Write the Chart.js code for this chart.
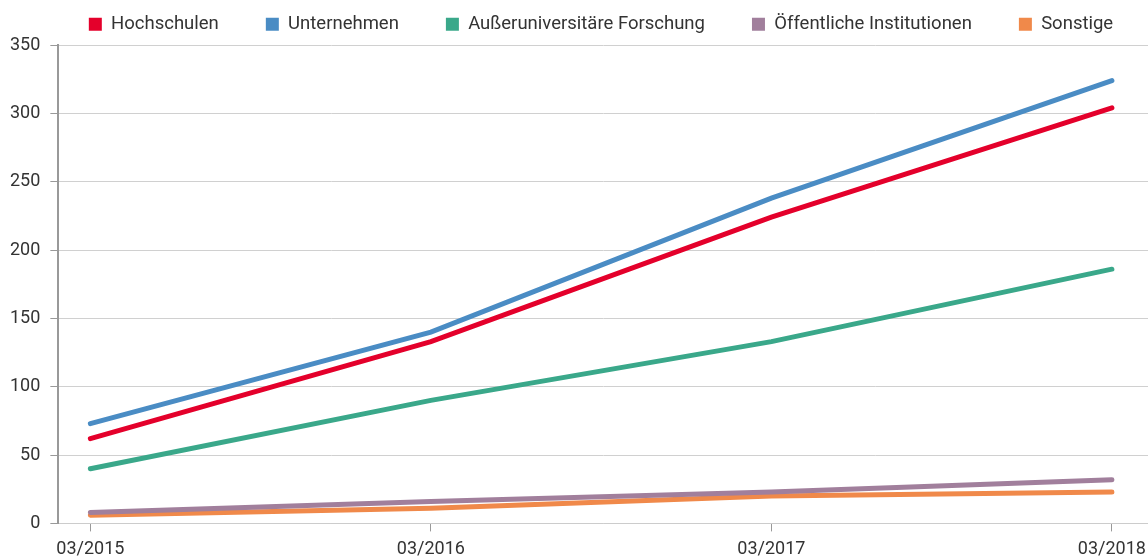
<!DOCTYPE html>
<html>
<head>
<meta charset="utf-8">
<script src="https://cdn.jsdelivr.net/npm/chart.js@4"></script>
<style>
  html, body { margin: 0; padding: 0; background: #fff; }
  #wrap { width: 1148px; height: 556px; }
</style>
</head>
<body>
<div id="wrap"><canvas id="myChart" width="1148" height="556"></canvas></div>
<script>
// chart data
var labels = ['03/2015', '03/2016', '03/2017', '03/2018'];
var seriesNames = ['Hochschulen', 'Unternehmen', 'Außeruniversitäre Forschung', 'Öffentliche Institutionen', 'Sonstige'];
var hochschulen = [62, 133, 224, 304];
var unternehmen = [73, 140, 238, 324];
var forschung = [40, 90, 133, 186];
var institutionen = [8, 16, 23, 32];
var sonstige = [6, 11, 20, 23];
var yTicks = [0, 50, 100, 150, 200, 250, 300, 350];

var colors = ['#e4002b', '#4a8cc4', '#3aa88a', '#a17f9c', '#f0894a'];
var allValues = [hochschulen, unternehmen, forschung, institutionen, sonstige];

function toPoints(arr) {
  return arr.map(function (v, i) { return { x: i, y: v }; });
}

var datasets = allValues.map(function (vals, i) {
  return {
    label: seriesNames[i],
    data: toPoints(vals),
    borderColor: colors[i],
    backgroundColor: colors[i],
    borderWidth: 5,
    pointRadius: 0,
    tension: 0,
    borderCapStyle: 'round',
    order: i
  };
});

// squeeze the legend into a thin strip at the top
var legendFix = {
  id: 'legendFix',
  beforeInit: function (chart) {
    var origFit = chart.legend.fit;
    chart.legend.fit = function () {
      origFit.call(this);
      this.height = 45;
    };
  },
  afterLayout: function (chart) {
    var lg = chart.legend;
    lg.top = -32;
    lg.left += 27;
    lg.right += 27;
  }
};

Chart.defaults.font.family = 'Roboto, "Liberation Sans", sans-serif';
Chart.defaults.font.size = 18;
Chart.defaults.color = '#333';

var ctx = document.getElementById('myChart').getContext('2d');
var myChart = new Chart(ctx, {
  type: 'line',
  data: { datasets: datasets },
  plugins: [legendFix],
  options: {
    responsive: false,
    animation: false,
    layout: { padding: { left: 0, right: 0, top: 0, bottom: -11 } },
    plugins: {
      legend: {
        position: 'top',
        labels: {
          boxWidth: 13,
          boxHeight: 13,
          padding: 47,
          font: { size: 18.5 },
          color: '#333',
          generateLabels: function (chart) {
            var items = Chart.defaults.plugins.legend.labels.generateLabels(chart);
            items.forEach(function (it) { it.lineWidth = 0; });
            return items;
          }
        }
      },
      tooltip: { enabled: false }
    },
    scales: {
      x: {
        type: 'linear',
        min: -0.094,
        max: 3.106,
        afterBuildTicks: function (axis) {
          axis.ticks = labels.map(function (l, i) { return { value: i }; });
        },
        afterFit: function (axis) {
          axis.paddingRight = 0;
          axis.paddingLeft = 0;
        },
        ticks: {
          callback: function (v) { return labels[v]; },
          maxRotation: 0,
          padding: 7,
          color: '#333'
        },
        grid: {
          drawOnChartArea: false,
          tickLength: 8,
          color: '#999'
        },
        border: { color: '#ccc', width: 1 }
      },
      y: {
        min: 0,
        max: 350,
        afterBuildTicks: function (axis) {
          axis.ticks = yTicks.map(function (v) { return { value: v }; });
        },
        ticks: { padding: 10, color: '#333' },
        grid: {
          color: '#d0d0d0',
          tickLength: 8,
          tickColor: '#999'
        },
        border: { color: '#999', width: 2 }
      }
    }
  }
});
</script>
</body>
</html>
